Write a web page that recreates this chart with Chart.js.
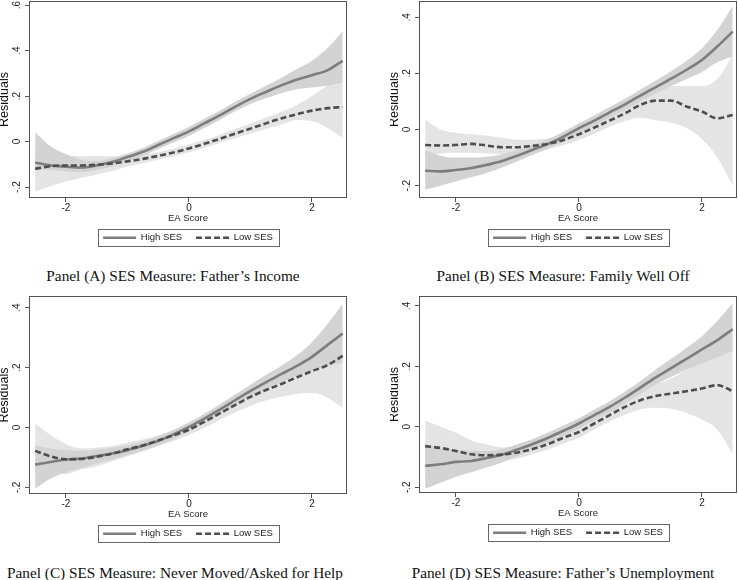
<!DOCTYPE html>
<html><head><meta charset="utf-8">
<script src="https://cdn.jsdelivr.net/npm/chart.js@4.4.0/dist/chart.umd.min.js"></script>
<style>
html,body{margin:0;padding:0;background:#fff;width:738px;height:580px;overflow:hidden;position:relative}
canvas{position:absolute;display:block}
.ptitle{position:absolute;width:400px;text-align:center;font-family:"Liberation Serif","Times New Roman",serif;font-size:15.3px;color:#111;white-space:nowrap;line-height:20px}
</style></head><body>
<canvas id="cA" width="350" height="260" style="left:0px;top:0px;width:350px;height:260px"></canvas>
<canvas id="cB" width="348" height="260" style="left:390px;top:0px;width:348px;height:260px"></canvas>
<canvas id="cC" width="350" height="260" style="left:0px;top:295px;width:350px;height:260px"></canvas>
<canvas id="cD" width="348" height="260" style="left:390px;top:295px;width:348px;height:260px"></canvas>
<div class="ptitle" style="left:-27px;top:266px">Panel (A) SES Measure: Father’s Income</div>
<div class="ptitle" style="left:363px;top:266px">Panel (B) SES Measure: Family Well Off</div>
<div class="ptitle" style="left:-25px;top:563px">Panel (C) SES Measure: Never Moved/Asked for Help</div>
<div class="ptitle" style="left:363px;top:563px">Panel (D) SES Measure: Father’s Unemployment</div>
<script>
// ---- data ----
const eaScore = [-2.5,-2.25,-2,-1.75,-1.5,-1.25,-1,-0.75,-0.5,-0.25,0,0.25,0.5,0.75,1,1.25,1.5,1.75,2,2.25,2.5];
const xTickValues = [-2, 0, 2];
const seriesNames = ['High SES', 'Low SES'];

// Panel A: Father's Income
const aHigh   = [-0.092,-0.105,-0.110,-0.114,-0.105,-0.090,-0.068,-0.045,-0.015,0.015,0.045,0.080,0.115,0.153,0.188,0.218,0.247,0.272,0.292,0.313,0.355];
const aLow    = [-0.120,-0.108,-0.105,-0.105,-0.102,-0.096,-0.087,-0.076,-0.063,-0.048,-0.030,-0.010,0.012,0.035,0.057,0.080,0.102,0.120,0.136,0.147,0.152];
const aHighLo = [-0.120,-0.125,-0.130,-0.135,-0.125,-0.108,-0.085,-0.063,-0.033,-0.003,0.025,0.060,0.095,0.133,0.165,0.190,0.213,0.230,0.238,0.245,0.260];
const aHighHi = [0.040,-0.020,-0.055,-0.080,-0.085,-0.072,-0.052,-0.028,0.003,0.033,0.065,0.100,0.135,0.175,0.210,0.245,0.280,0.318,0.355,0.410,0.485];
const aLowLo  = [-0.220,-0.195,-0.175,-0.160,-0.145,-0.130,-0.110,-0.095,-0.080,-0.065,-0.047,-0.027,-0.006,0.015,0.035,0.055,0.075,0.095,0.090,0.060,0.015];
const aLowHi  = [-0.030,-0.050,-0.060,-0.065,-0.065,-0.065,-0.065,-0.057,-0.046,-0.031,-0.013,0.007,0.030,0.055,0.080,0.105,0.130,0.160,0.200,0.245,0.290];
const aYTicks = [-0.2, 0, 0.2, 0.4, 0.6];

// Panel B: Family Well Off
const bHigh   = [-0.147,-0.149,-0.144,-0.137,-0.126,-0.112,-0.093,-0.072,-0.051,-0.025,0.005,0.032,0.061,0.090,0.121,0.151,0.181,0.213,0.248,0.296,0.349];
const bLow    = [-0.055,-0.057,-0.055,-0.051,-0.057,-0.063,-0.063,-0.058,-0.051,-0.037,-0.017,0.007,0.032,0.058,0.088,0.103,0.103,0.082,0.064,0.040,0.052];
const bHighLo = [-0.215,-0.200,-0.185,-0.170,-0.155,-0.135,-0.113,-0.090,-0.068,-0.042,-0.013,0.014,0.042,0.070,0.100,0.128,0.155,0.180,0.205,0.240,0.260];
const bHighHi = [-0.075,-0.093,-0.100,-0.100,-0.097,-0.088,-0.073,-0.055,-0.034,-0.008,0.022,0.050,0.080,0.110,0.143,0.175,0.208,0.245,0.290,0.355,0.440];
const bLowLo  = [-0.100,-0.085,-0.083,-0.083,-0.085,-0.087,-0.088,-0.082,-0.070,-0.055,-0.037,-0.015,0.010,0.030,0.042,0.033,0.025,0.005,-0.035,-0.100,-0.200];
const bLowHi  = [0.036,0.000,-0.012,-0.017,-0.022,-0.030,-0.036,-0.036,-0.032,-0.019,0.003,0.028,0.055,0.085,0.118,0.140,0.155,0.155,0.155,0.180,0.265];
const bYTicks = [-0.2, 0, 0.2, 0.4];

// Panel C: Never Moved/Asked for Help
const cHigh   = [-0.124,-0.115,-0.107,-0.104,-0.095,-0.087,-0.076,-0.061,-0.045,-0.023,0.002,0.030,0.060,0.091,0.122,0.151,0.178,0.205,0.236,0.275,0.314];
const cLow    = [-0.078,-0.096,-0.106,-0.105,-0.098,-0.087,-0.073,-0.060,-0.043,-0.026,-0.007,0.019,0.047,0.075,0.102,0.125,0.145,0.167,0.188,0.208,0.239];
const cHighLo = [-0.205,-0.170,-0.150,-0.135,-0.120,-0.107,-0.093,-0.077,-0.060,-0.038,-0.013,0.014,0.043,0.072,0.100,0.127,0.152,0.172,0.190,0.205,0.215];
const cHighHi = [-0.060,-0.070,-0.075,-0.078,-0.074,-0.068,-0.059,-0.045,-0.030,-0.008,0.017,0.046,0.077,0.110,0.143,0.175,0.205,0.240,0.285,0.345,0.412];
const cLowLo  = [-0.150,-0.150,-0.155,-0.140,-0.130,-0.113,-0.096,-0.080,-0.062,-0.045,-0.025,-0.002,0.025,0.050,0.072,0.090,0.103,0.112,0.115,0.100,0.065];
const cLowHi  = [0.013,-0.025,-0.055,-0.070,-0.068,-0.062,-0.050,-0.040,-0.025,-0.008,0.012,0.040,0.070,0.100,0.130,0.160,0.190,0.220,0.260,0.315,0.385];
const cYTicks = [-0.2, 0, 0.2, 0.4];

// Panel D: Father's Unemployment
const dHigh   = [-0.129,-0.124,-0.116,-0.113,-0.103,-0.092,-0.075,-0.057,-0.036,-0.013,0.011,0.039,0.066,0.097,0.130,0.164,0.194,0.225,0.256,0.287,0.323];
const dLow    = [-0.064,-0.070,-0.080,-0.091,-0.094,-0.092,-0.085,-0.073,-0.057,-0.036,-0.017,0.011,0.039,0.066,0.088,0.102,0.110,0.118,0.127,0.138,0.118];
const dHighLo = [-0.205,-0.185,-0.165,-0.150,-0.135,-0.118,-0.097,-0.075,-0.053,-0.030,-0.006,0.021,0.047,0.077,0.108,0.139,0.165,0.190,0.210,0.230,0.250];
const dHighHi = [-0.060,-0.070,-0.075,-0.080,-0.080,-0.073,-0.058,-0.040,-0.019,0.004,0.028,0.057,0.085,0.117,0.152,0.190,0.225,0.262,0.300,0.350,0.410];
const dLowLo  = [-0.120,-0.120,-0.125,-0.125,-0.120,-0.113,-0.105,-0.090,-0.075,-0.055,-0.036,-0.009,0.018,0.040,0.058,0.063,0.060,0.046,0.024,-0.010,-0.090];
const dLowHi  = [0.022,0.000,-0.020,-0.045,-0.058,-0.068,-0.065,-0.056,-0.039,-0.017,0.003,0.031,0.060,0.092,0.118,0.140,0.160,0.190,0.230,0.270,0.320];
const dYTicks = [-0.2, 0, 0.2, 0.4];

// ---- styling ----
const SANS = '"Liberation Sans", Arial, sans-serif';
const HIGH_COLOR = '#7d7d7d';
const LOW_COLOR = '#4d4d4d';
const HIGH_BAND = '#d3d3d3';
const LOW_BAND = '#e4e4e4';
const FRAME = '#555555';

function pts(arr) { return arr.map((v, i) => ({x: eaScore[i], y: v})); }
function fmt(v) {
  if (Math.abs(v) < 1e-9) return '0';
  return String(Math.round(v * 10) / 10).replace('0.', '.');
}

const framePlugin = {
  id: 'frames',
  afterDraw(chart) {
    const ctx = chart.ctx, ca = chart.chartArea;
    ctx.save();
    ctx.strokeStyle = FRAME; ctx.lineWidth = 1; ctx.setLineDash([]);
    ctx.strokeRect(Math.round(ca.left) + 0.5, Math.round(ca.top) + 0.5,
                   Math.round(ca.right - ca.left) - 1, Math.round(ca.bottom - ca.top) - 1);
    const hb = chart.legend && chart.legend.legendHitBoxes;
    if (hb && hb.length) {
      const x0 = Math.min(...hb.map(h => h.left)) - 5;
      const x1 = Math.max(...hb.map(h => h.left + h.width)) + 6;
      const y0 = hb[0].top - 3.75;
      ctx.strokeStyle = '#666666';
      ctx.strokeRect(Math.round(x0) + 0.5, Math.round(y0) + 0.5, Math.round(x1 - x0), 17);
    }
    ctx.restore();
  }
};

function makePanel(id, high, low, highLo, highHi, lowLo, lowHi, yTicks, yMin, yMax, padRight, padBottom) {
  const line = {pointRadius: 0, fill: false, cubicInterpolationMode: 'monotone'};
  new Chart(document.getElementById(id), {
    type: 'line',
    data: {
      datasets: [
        Object.assign({label: seriesNames[1], data: pts(low), borderColor: LOW_COLOR, borderWidth: 2.6, borderDash: [6, 3]}, line),
        Object.assign({label: seriesNames[0], data: pts(high), borderColor: HIGH_COLOR, borderWidth: 2.6}, line),
        Object.assign({label: 'hb1', data: pts(highHi), borderWidth: 0, borderColor: 'rgba(0,0,0,0)', backgroundColor: HIGH_BAND}, line, {fill: '+1'}),
        Object.assign({label: 'hb0', data: pts(highLo), borderWidth: 0, borderColor: 'rgba(0,0,0,0)'}, line),
        Object.assign({label: 'lb1', data: pts(lowHi), borderWidth: 0, borderColor: 'rgba(0,0,0,0)', backgroundColor: LOW_BAND}, line, {fill: '+1'}),
        Object.assign({label: 'lb0', data: pts(lowLo), borderWidth: 0, borderColor: 'rgba(0,0,0,0)'}, line)
      ]
    },
    options: {
      responsive: false, animation: false, events: [],
      layout: {padding: {left: 0, right: padRight, top: 1, bottom: padBottom}},
      scales: {
        x: {
          type: 'linear', min: -2.6, max: 2.57,
          afterBuildTicks: s => { s.ticks = xTickValues.map(v => ({value: v})); },
          afterFit: s => { s.height = 21; s.paddingLeft = 0; s.paddingRight = 0; },
          border: {display: false},
          grid: {drawOnChartArea: false, drawTicks: true, tickLength: 4, color: FRAME},
          ticks: {padding: 0, maxRotation: 0, font: {family: SANS, size: 10}, color: '#222', callback: v => fmt(v)},
          title: {display: true, text: 'EA Score', font: {family: SANS, size: 9.5}, color: '#222', padding: {top: -4.7, bottom: -4.7}}
        },
        y: {
          type: 'linear', min: yMin, max: yMax,
          afterBuildTicks: s => { s.ticks = yTicks.map(v => ({value: v})); },
          afterFit: s => { s.width = 29; s.paddingTop = 0; s.paddingBottom = 0; },
          border: {display: false},
          grid: {drawOnChartArea: false, drawTicks: true, tickLength: 4, color: FRAME},
          ticks: {minRotation: 90, maxRotation: 90, crossAlign: 'center', padding: 2, font: {family: SANS, size: 10}, color: '#222', callback: v => fmt(v)},
          title: {display: true, text: 'Residuals', font: {family: SANS, size: 12.5}, color: '#111', padding: {top: -2.5, bottom: -2.5}}
        }
      },
      plugins: {
        tooltip: {enabled: false},
        legend: {
          position: 'bottom', fullSize: false,
          labels: {
            usePointStyle: true, pointStyle: 'line', pointStyleWidth: 33, padding: 14,
            font: {family: SANS, size: 9.5}, color: '#222',
            generateLabels: chart => [1, 0].map(i => {
              const d = chart.data.datasets[i];
              return {text: d.label, strokeStyle: d.borderColor, fillStyle: d.borderColor,
                      lineWidth: d.borderWidth, lineDash: d.borderDash || [], pointStyle: 'line',
                      datasetIndex: i, hidden: false, fontColor: '#222'};
            })
          }
        }
      }
    },
    plugins: [framePlugin]
  });
}

makePanel('cA', aHigh, aLow, aHighLo, aHighHi, aLowLo, aLowHi, aYTicks, -0.248, 0.618, 3, 7.5);
makePanel('cB', bHigh, bLow, bHighLo, bHighHi, bLowLo, bLowHi, bYTicks, -0.244, 0.458, 1, 7.5);
makePanel('cC', cHigh, cLow, cHighLo, cHighHi, cLowLo, cLowHi, cYTicks, -0.222, 0.439, 3, 6.5);
makePanel('cD', dHigh, dLow, dHighLo, dHighHi, dLowLo, dLowHi, dYTicks, -0.219, 0.433, 1, 7.5);
</script>
</body></html>
